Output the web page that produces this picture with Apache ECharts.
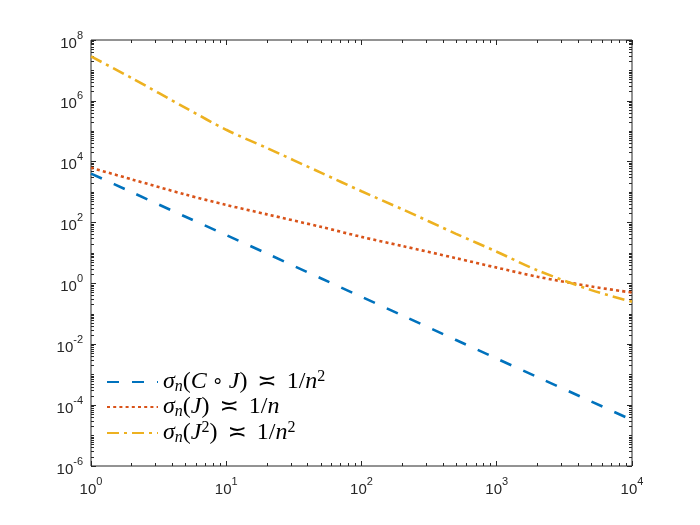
<!DOCTYPE html>
<html><head><meta charset="utf-8">
<script src="https://cdn.jsdelivr.net/npm/echarts@6/dist/echarts.min.js"></script>
<style>html,body{margin:0;padding:0;background:#fff}#c{width:700px;height:525px}</style>
</head><body><div id="c"></div><script>
// ---- data ----
const nValues = [1, 2, 5, 10, 20, 50, 100, 200, 500, 1000, 2000, 5000, 10000];
const sigmaCJ = [4070, 1000, 155, 38.9, 9.55, 1.48, 0.363, 0.0891, 0.0138, 0.00339, 0.000832, 0.000132, 0.0000324];
const sigmaJ = [6310, 2630, 832, 380, 186, 72.4, 33.9, 17.0, 6.76, 3.31, 1.66, 0.794, 0.501];
const sigmaJ2 = [2.88e7, 5.62e6, 5.89e5, 1.12e5, 2.82e4, 4370, 1070, 275, 42.7, 11.0, 2.69, 0.603, 0.251];
const seriesNames = ['sCJ', 'sJ', 'sJ2'];
const legendLabels = [
  '{i|σ}{s|n}{r|(}{i|C}{h| }{o|∘}{h| }{i|J}{r|)}{g| }{q|≍}{g| }{r|1/}{i|n}{p|2}',
  '{i|σ}{s|n}{r|(}{i|J}{r|)}{g| }{q|≍}{g| }{r|1/}{i|n}',
  '{i|σ}{s|n}{r|(}{i|J}{p|2}{r|)}{g| }{q|≍}{g| }{r|1/}{i|n}{p|2}'
];
const xMajorTicks = [1, 10, 100, 1000, 10000];
const yMajorTicks = [1e-6, 1e-4, 1e-2, 1, 1e2, 1e4, 1e6, 1e8];

function minorTicks(lo, hi, majors) {
  const out = [];
  for (let e = lo; e < hi; e++) {
    for (let m = 1; m < 10; m++) {
      const v = m * Math.pow(10, e);
      if (!majors.some(t => Math.abs(Math.log10(t) - Math.log10(v)) < 1e-9)) out.push(v);
    }
  }
  return out;
}
const xMinorTicks = minorTicks(0, 4, xMajorTicks);
const yMinorTicks = minorTicks(-6, 8, yMajorTicks);

const AX = '#262626';
const FONT = "'Liberation Sans', Arial, Helvetica, sans-serif";
const SERIF = "'Liberation Serif', 'DejaVu Serif', serif";
function expLabel(v) {
  const e = Math.round(Math.log10(v));
  return '{b|10}{e|' + e + '}';
}
const labelRich = {
  b: { fontSize: 15, fontFamily: FONT, color: AX, lineHeight: 22, verticalAlign: 'bottom' },
  e: { fontSize: 11, fontFamily: FONT, color: AX, lineHeight: 22, verticalAlign: 'top', padding: [1, 0, 0, 0] }
};

function makeAxis(kind, pos, ticks, len, showLabel, range) {
  return {
    type: 'log', logBase: 10, position: pos, min: range[0], max: range[1],
    axisLine: { show: false },
    splitLine: { show: false },
    axisTick: { show: true, inside: true, length: len, customValues: ticks, lineStyle: { color: AX, width: 1 } },
    axisLabel: showLabel ? {
      show: true, customValues: ticks, formatter: expLabel, rich: labelRich,
      margin: kind === 'x' ? 9 : 8
    } : { show: false },
    axisPointer: { show: false }
  };
}
const xr = [1, 10000], yr = [1e-6, 1e8];

const option = {
  animation: false,
  backgroundColor: '#fff',
  grid: { left: 91, right: 68, top: 40, bottom: 59, show: true, borderColor: AX, borderWidth: 1, backgroundColor: 'transparent' },
  xAxis: [
    makeAxis('x', 'bottom', xMajorTicks, 5, true, xr),
    makeAxis('x', 'bottom', xMinorTicks, 3, false, xr),
    makeAxis('x', 'top', xMajorTicks, 5, false, xr),
    makeAxis('x', 'top', xMinorTicks, 3, false, xr)
  ],
  yAxis: [
    makeAxis('y', 'left', yMajorTicks, 5, true, yr),
    makeAxis('y', 'left', yMinorTicks, 3, false, yr),
    makeAxis('y', 'right', yMajorTicks, 5, false, yr),
    makeAxis('y', 'right', yMinorTicks, 3, false, yr)
  ],
  legend: {
    orient: 'vertical', left: 106, top: 369, padding: 0, itemGap: 0,
    itemWidth: 51, itemHeight: 14,
    data: seriesNames,
    itemStyle: { opacity: 0 },
    formatter: name => legendLabels[seriesNames.indexOf(name)],
    textStyle: {
      color: '#000',
      rich: {
        i: { fontFamily: SERIF, fontStyle: 'italic', fontSize: 24, lineHeight: 26, color: '#000' },
        r: { fontFamily: SERIF, fontSize: 24, lineHeight: 26, color: '#000' },
        g: { fontFamily: SERIF, fontSize: 24, lineHeight: 26, width: 10 },
        h: { fontFamily: SERIF, fontSize: 24, lineHeight: 26, width: 5 },
        q: { fontFamily: "'DejaVu Sans', sans-serif", fontSize: 23, lineHeight: 26, color: '#000' },
        o: { fontFamily: "'DejaVu Sans', sans-serif", fontSize: 19, lineHeight: 26, color: '#000' },
        s: { fontFamily: SERIF, fontStyle: 'italic', fontSize: 16, lineHeight: 12, verticalAlign: 'bottom', color: '#000' },
        p: { fontFamily: SERIF, fontSize: 16, lineHeight: 14, verticalAlign: 'top', color: '#000' }
      }
    }
  },
  series: [
    { name: seriesNames[0], type: 'line', data: nValues.map((n, k) => [n, sigmaCJ[k]]),
      symbol: 'none', smooth: 0.3, color: '#0072BD',
      lineStyle: { width: 2.6, type: [12, 13], color: '#0072BD' } },
    { name: seriesNames[1], type: 'line', data: nValues.map((n, k) => [n, sigmaJ[k]]),
      symbol: 'none', smooth: 0.3, color: '#D95319',
      lineStyle: { width: 2.6, type: [3, 3.2], color: '#D95319' } },
    { name: seriesNames[2], type: 'line', data: nValues.map((n, k) => [n, sigmaJ2[k]]),
      symbol: 'none', smooth: 0.3, color: '#EDB120',
      lineStyle: { width: 2.6, type: [12, 5, 3, 5], color: '#EDB120' } }
  ]
};
const chart = echarts.init(document.getElementById('c'), null, { renderer: 'canvas' });
chart.setOption(option);
</script></body></html>
